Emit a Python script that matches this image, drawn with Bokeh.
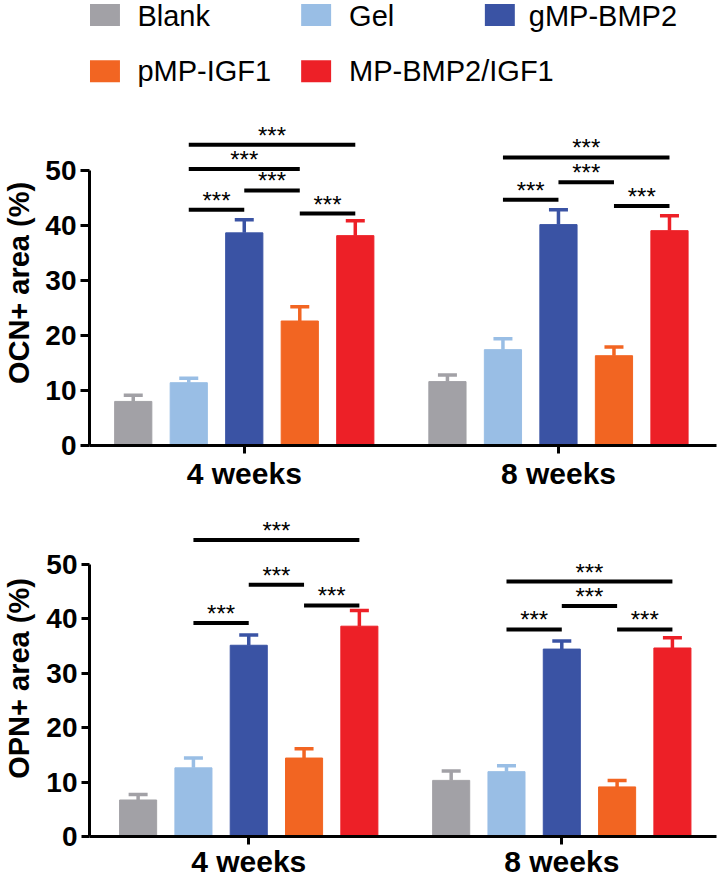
from bokeh.plotting import figure
from bokeh.models import Range1d, ColumnDataSource, Whisker, TeeHead, FixedTicker
from bokeh.layouts import column
from bokeh.embed import file_html
from bokeh.resources import INLINE
from bokeh.core.properties import value

# ---------------- data ----------------
groups = ["Blank", "Gel", "gMP-BMP2", "pMP-IGF1", "MP-BMP2/IGF1"]
colors = ["#A2A1A6", "#99BEE5", "#3A53A4", "#F26522", "#ED2027"]
timepoints = ["4 weeks", "8 weeks"]

ocn_4w = [8.0, 11.4, 38.6, 22.6, 38.1]
ocn_4w_err = [1.1, 0.8, 2.4, 2.6, 2.7]
ocn_8w = [11.6, 17.4, 40.1, 16.3, 39.0]
ocn_8w_err = [1.2, 2.0, 2.7, 1.6, 2.7]

opn_4w = [6.7, 12.6, 35.1, 14.4, 38.6]
opn_4w_err = [1.0, 1.8, 1.9, 1.7, 2.9]
opn_8w = [10.3, 11.9, 34.4, 9.1, 34.6]
opn_8w_err = [1.7, 1.1, 1.5, 1.2, 1.9]

# significance brackets: (group index i, group index j, bracket height)
ocn_sig_4w = [(1, 2, 42.8), (2, 3, 46.3), (1, 3, 50.2), (3, 4, 42.1), (1, 4, 54.6)]
ocn_sig_8w = [(1, 2, 44.6), (2, 3, 47.8), (3, 4, 43.5), (1, 4, 52.3)]
opn_sig_4w = [(1, 2, 39.2), (2, 3, 46.2), (3, 4, 42.4), (1, 4, 54.4)]
opn_sig_8w = [(1, 2, 38.0), (2, 3, 42.3), (3, 4, 38.0), (1, 4, 46.8)]
sig_label = "***"

y_ticks = [0, 10, 20, 30, 40, 50]
ocn_label = "OCN+ area (%)"
opn_label = "OPN+ area (%)"

# ---------------- layout constants ----------------
FONT = "Liberation Sans"
W = 720
LEFT = 88     # common frame left (column aligns frames)
RIGHT = 4
group_centers = [2.84, 8.5]
bar_step = 1.0
bar_width = 0.67


def bar_x(t, k):
    return group_centers[t] + (k - 2) * bar_step


def make_chart(vals, errs, sigs, ylabel, height, top, bottom, x_start, x_end, y_end,
               tick_out, label_standoff, axis_label_standoff):
    p = figure(width=W, height=height, x_range=Range1d(x_start, x_end),
               y_range=Range1d(0, y_end), title=None,
               output_backend="svg", toolbar_location=None,
               min_border_left=LEFT, min_border_right=RIGHT, min_border_top=top,
               min_border_bottom=bottom)
    p.grid.visible = False
    p.outline_line_color = None

    # bars
    xs, tops, cols = [], [], []
    for t in range(len(timepoints)):
        for k in range(len(groups)):
            xs.append(bar_x(t, k))
            tops.append(vals[t][k])
            cols.append(colors[k])
    src = ColumnDataSource(dict(x=xs, top=tops, color=cols))
    p.vbar(x="x", top="top", width=bar_width, bottom=0, source=src,
           fill_color="color", line_color="color", line_width=1)

    # error bars (upper only)
    for k in range(len(groups)):
        wsrc = ColumnDataSource(dict(
            x=[bar_x(t, k) for t in range(len(timepoints))],
            lower=[vals[t][k] for t in range(len(timepoints))],
            upper=[vals[t][k] + errs[t][k] for t in range(len(timepoints))]))
        w = Whisker(source=wsrc, base="x", lower="lower", upper="upper", dimension="height",
                    line_color=colors[k], line_width=3.5,
                    upper_head=TeeHead(size=19, line_color=colors[k], line_width=3.5),
                    lower_head=None)
        p.add_layout(w)

    # significance brackets
    x0, x1, ys, xm, labels = [], [], [], [], []
    for t in range(len(timepoints)):
        for (i, j, h) in sigs[t]:
            a, b = bar_x(t, i), bar_x(t, j)
            x0.append(a)
            x1.append(b)
            ys.append(h)
            xm.append((a + b) / 2)
            labels.append(sig_label)
    ssrc = ColumnDataSource(dict(x0=x0, x1=x1, y=ys, xm=xm, lab=labels))
    p.segment(x0="x0", y0="y", x1="x1", y1="y", source=ssrc, line_color="black", line_width=4)
    p.text(x="xm", y="y", text="lab", source=ssrc, text_align="center",
           text_baseline="middle", text_font=value(FONT), text_font_size="24px",
           text_color="black", y_offset=-9.5)

    # axes
    for ax in (p.xaxis[0], p.yaxis[0]):
        ax.axis_line_width = 3
        ax.axis_line_color = "black"
        ax.major_tick_line_width = 3
        ax.major_tick_line_color = "black"
        ax.major_tick_in = 0
        ax.minor_tick_line_color = None
        ax.major_label_text_font = FONT
        ax.major_label_text_font_style = "bold"
        ax.major_label_text_color = "black"

    p.yaxis.ticker = FixedTicker(ticks=y_ticks)
    p.yaxis.bounds = (y_ticks[0], y_ticks[-1])
    p.yaxis.major_tick_out = tick_out
    p.yaxis.major_label_standoff = 4
    p.yaxis.major_label_text_font_size = "28px"
    p.yaxis.axis_label = ylabel
    p.yaxis.axis_label_text_font = FONT
    p.yaxis.axis_label_text_font_style = "bold"
    p.yaxis.axis_label_text_font_size = "29px"
    p.yaxis.axis_label_text_color = "black"
    p.yaxis.axis_label_standoff = axis_label_standoff

    p.xaxis.ticker = FixedTicker(ticks=group_centers)
    p.xaxis.major_label_overrides = {c: lab for c, lab in zip(group_centers, timepoints)}
    p.xaxis.major_label_text_font_size = "30px"
    p.xaxis.major_tick_out = 8
    p.xaxis.major_label_standoff = label_standoff
    return p


# ---------------- legend figure ----------------
LEG_H = 100
leg = figure(width=W, height=LEG_H, x_range=Range1d(LEFT, W - RIGHT),
             y_range=Range1d(LEG_H, 0), title=None,
             output_backend="svg", toolbar_location=None,
             min_border_left=LEFT, min_border_right=RIGHT, min_border_top=0,
             min_border_bottom=0, x_axis_location=None, y_axis_location=None)
leg.grid.visible = False
leg.outline_line_color = None
col_x = [103.5, 315.0, 499.0]
text_x = [136.0, 348.0, 528.0]
row_y = [14.6, 70.8]
text_y = [15.5, 70.3]
sw_x, sw_y, tx, ty = [], [], [], []
for n in range(len(groups)):
    r, c = divmod(n, 3)
    sw_x.append(col_x[c])
    sw_y.append(row_y[r])
    tx.append(text_x[c])
    ty.append(text_y[r])
leg.rect(x=sw_x, y=sw_y, width=30, height=22, fill_color=colors, line_color=None)
leg.text(x=tx, y=ty, text=groups, text_font=value(FONT), text_font_size="29px",
         text_baseline="middle", text_align="left", text_color="black")

# ---------------- charts ----------------
top = make_chart([ocn_4w, ocn_8w], [ocn_4w_err, ocn_8w_err], [ocn_sig_4w, ocn_sig_8w],
                 ocn_label, height=392, top=20, bottom=45,
                 x_start=0.052, x_end=11.347, y_end=59,
                 tick_out=9, label_standoff=3, axis_label_standoff=7)
bot = make_chart([opn_4w, opn_8w], [opn_4w_err, opn_8w_err], [opn_sig_4w, opn_sig_8w],
                 opn_label, height=388, top=28, bottom=42,
                 x_start=-0.039, x_end=11.297, y_end=58,
                 tick_out=8, label_standoff=0, axis_label_standoff=8)

layout = column(leg, top, bot, spacing=0)
open("out.html", "w").write(file_html(layout, INLINE))
